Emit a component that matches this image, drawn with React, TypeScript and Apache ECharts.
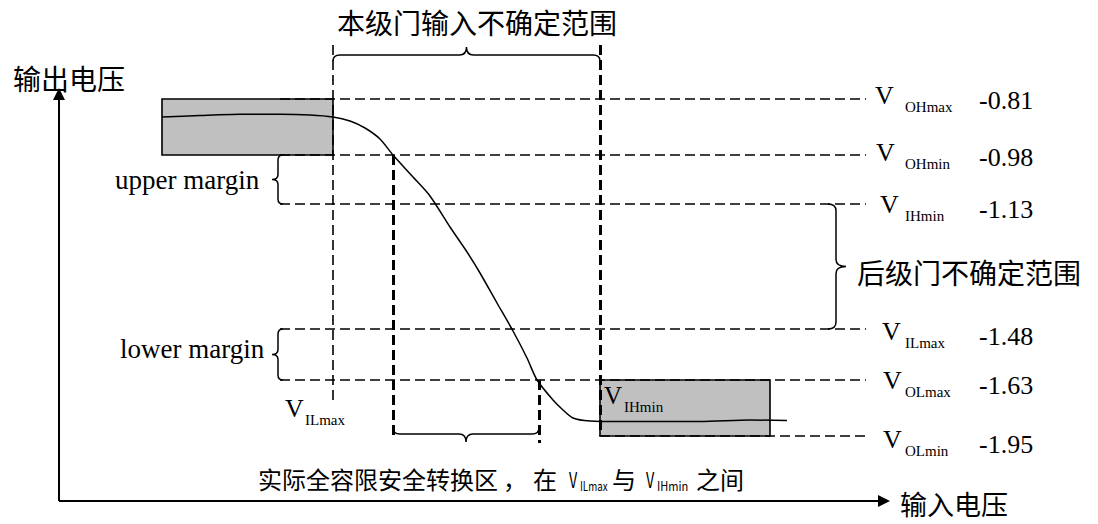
import React, { useEffect, useRef } from 'react';
import * as echarts from 'echarts';

// ---- schematic data (positions on the schematic input / output axes) ----
const levelNames = ['OHmax', 'OHmin', 'IHmin', 'ILmax', 'OLmax', 'OLmin'];
const levelVolts = ['-0.81', '-0.98', '-1.13', '-1.48', '-1.63', '-1.95'];
const levelPos = [99, 155, 204, 329, 380, 436];

const vILmaxX = 333;
const vIHminX = 600;
const safeX = [393, 539];

const highBoxX = [162, 333];
const lowBoxX = [600, 770];

const curveX = [162, 200, 240, 280, 310, 333, 350, 365, 380, 393, 413, 430, 450, 467, 480, 497, 513, 527, 537, 553, 562, 573, 590, 620, 700, 750, 787];
const curveY = [117, 115.5, 114.3, 114.3, 115, 117, 121, 128, 139, 155, 177, 196, 227, 252, 273, 303, 331, 358, 380, 400, 409, 418, 421, 421.5, 421.5, 420, 420.5];

const axisOrigin = [59, 501];
const axisTop = 94;
const axisRight = 884;

const yAxisName = '输出电压';
const xAxisName = '输入电压';
const topTitle = '本级门输入不确定范围';
const rightTitle = '后级门不确定范围';
const marginNames = ['upper margin', 'lower margin'];
const bottomParts = ['实际全容限安全转换区', '，', '在', 'V', 'ILmax', '与', 'V', 'IHmin', '之间'];

const CJK = '"Noto Sans CJK SC", "Noto Sans", sans-serif';
const SERIF = '"Liberation Serif", "Times New Roman", serif';

function bracePath(p0: number[], p1: number[], n: number[], a: number, b: number, r: number) {
  const dx = p1[0] - p0[0];
  const dy = p1[1] - p0[1];
  const L = Math.sqrt(dx * dx + dy * dy);
  const t = [dx / L, dy / L];
  const P = (u: number, v: number) => `${(p0[0] + t[0] * u + n[0] * v).toFixed(2)} ${(p0[1] + t[1] * u + n[1] * v).toFixed(2)}`;
  const m = L / 2;
  return `M ${P(0, 0)} Q ${P(0, a)} ${P(r, a)} L ${P(m - r, a)} Q ${P(m, a)} ${P(m, a + b)} Q ${P(m, a)} ${P(m + r, a)} L ${P(L - r, a)} Q ${P(L, a)} ${P(L, 0)}`;
}

export default function App() {
  const ref = useRef<HTMLDivElement>(null);
  useEffect(() => {
    if (!ref.current) return;
    const chart = echarts.init(ref.current, undefined, { renderer: 'svg' });

    const boxes = [
      { x0: highBoxX[0], x1: highBoxX[1], y0: levelPos[0], y1: levelPos[1] },
      { x0: lowBoxX[0], x1: lowBoxX[1], y0: levelPos[4], y1: levelPos[5] },
    ];

    const braces = [
      { p0: [vILmaxX, 61], p1: [vIHminX, 61], n: [0, -1], a: 6, b: 8, r: 7 },
      { p0: [safeX[0], 428], p1: [safeX[1], 428], n: [0, 1], a: 6, b: 8, r: 7 },
      { p0: [283, levelPos[1]], p1: [283, levelPos[2]], n: [-1, 0], a: 5, b: 6, r: 5 },
      { p0: [283, levelPos[3]], p1: [283, levelPos[4]], n: [-1, 0], a: 5, b: 6, r: 5 },
      { p0: [828, levelPos[2]], p1: [828, levelPos[3]], n: [1, 0], a: 8, b: 10, r: 7 },
    ];

    const dashStart = [280, 280, 280, 280, 280, vIHminX];
    const dashEnd = 866;
    const thin = { color: '#000', width: 1.6, type: [10, 5], opacity: 1 };
    const thick = { color: '#000', width: 3, type: [10, 5], opacity: 1 };

    const hLines = levelPos.map((y, i) => ({ coords: [[dashStart[i], y], [dashEnd, y]], lineStyle: thin }));
    const vLines = [
      { coords: [[vILmaxX, 45], [vILmaxX, 403]], lineStyle: thin },
      { coords: [[safeX[0], levelPos[1]], [safeX[0], 440]], lineStyle: thick },
      { coords: [[safeX[1], levelPos[4]], [safeX[1], 443]], lineStyle: thick },
      { coords: [[vIHminX, 45], [vIHminX, levelPos[5]]], lineStyle: thick },
    ];

    chart.setOption({
      animation: false,
      backgroundColor: '#fff',
      grid: { left: 0, right: 0, top: 0, bottom: 0 },
      xAxis: { type: 'value', min: 0, max: 1098, show: false },
      yAxis: { type: 'value', min: 0, max: 524, inverse: true, show: false },
      series: [
        {
          type: 'custom',
          coordinateSystem: 'cartesian2d',
          clip: false,
          data: boxes.map((_, i) => [i, 0]),
          renderItem: (params: any, api: any) => {
            const b = boxes[params.dataIndex];
            const p0 = api.coord([b.x0, b.y0]);
            const p1 = api.coord([b.x1, b.y1]);
            return {
              type: 'rect',
              shape: { x: Math.min(p0[0], p1[0]), y: Math.min(p0[1], p1[1]), width: Math.abs(p1[0] - p0[0]), height: Math.abs(p1[1] - p0[1]) },
              style: { fill: '#c0c0c0', stroke: '#000', lineWidth: 1.6 },
            };
          },
          z: 1,
        },
        {
          type: 'lines',
          coordinateSystem: 'cartesian2d',
          data: [...hLines, ...vLines],
          symbol: 'none',
          lineStyle: { color: '#000', opacity: 1 },
          z: 2,
        },
        {
          type: 'line',
          data: curveX.map((x, i) => [x, curveY[i]]),
          smooth: 0.25,
          symbol: 'none',
          lineStyle: { color: '#000', width: 1.5, opacity: 1 },
          z: 3,
        },
        {
          type: 'custom',
          coordinateSystem: 'cartesian2d',
          clip: false,
          data: braces.map((_, i) => [i, 0]),
          renderItem: (params: any, api: any) => {
            const b = braces[params.dataIndex];
            const p0 = api.coord(b.p0);
            const p1 = api.coord(b.p1);
            return {
              type: 'path',
              shape: { pathData: bracePath(p0, p1, b.n, b.a, b.b, b.r) },
              style: { fill: 'none', stroke: '#000', lineWidth: 1.5 },
            };
          },
          z: 4,
        },
        {
          type: 'lines',
          coordinateSystem: 'cartesian2d',
          symbol: ['none', 'triangle'],
          symbolSize: [11, 12],
          lineStyle: { color: '#000', width: 2, type: 'solid', opacity: 1 },
          data: [
            { coords: [axisOrigin, [axisOrigin[0], axisTop]] },
            { coords: [axisOrigin, [axisRight, axisOrigin[1]]] },
          ],
          z: 5,
        },
      ],
    });

    const px = (x: number, y: number) => chart.convertToPixel({ gridIndex: 0 }, [x, y]) as number[];
    const txt = (text: string, x: number, y: number, size: number, family: string, sx = 1) => {
      const p = px(x, y);
      return {
        type: 'text',
        x: p[0],
        y: p[1],
        scaleX: sx,
        z: 10,
        style: {
          text,
          fontSize: size,
          fontFamily: family,
          fill: '#000',
          align: 'left',
          verticalAlign: 'middle',
          textAlign: 'left',
          textVerticalAlign: 'middle',
        },
      };
    };

    const labelY = [95, 152, 204, 331, 380, 439];
    const labelX = [875, 876, 880, 882, 883, 883];
    const g: any[] = [
      txt(yAxisName, 13, 78, 28, CJK),
      txt(topTitle, 337, 22, 28, CJK),
      txt(rightTitle, 857, 272, 28, CJK),
      txt(xAxisName, 900, 503, 27, CJK),
      txt(marginNames[0], 115, 180, 27, SERIF),
      txt(marginNames[1], 120, 349, 27, SERIF),
      txt('V', 285, 408, 26, SERIF),
      txt('ILmax', 305, 420, 15, SERIF),
      txt('V', 604, 395, 25, SERIF),
      txt('IHmin', 624, 407, 15, SERIF),
    ];
    levelNames.forEach((name, i) => {
      g.push(txt('V', labelX[i], labelY[i], 26, SERIF));
      g.push(txt(name, 905, labelY[i] + 12, 15, SERIF));
      g.push(txt(levelVolts[i], 979, labelY[i] + 5, 26, SERIF));
    });
    const bx = [258, 503, 533, 569, 580, 612, 646, 657, 696];
    const bs = [24, 24, 24, 22, 13, 24, 22, 13, 24];
    const by = [478, 478, 478, 478, 485, 478, 478, 485, 478];
    const bsx = [1, 1, 1, 0.65, 0.75, 1, 0.65, 0.85, 1];
    bottomParts.forEach((t, i) => g.push(txt(t, bx[i], by[i], bs[i], CJK, bsx[i])));

    chart.setOption({ graphic: { elements: g } });

    return () => chart.dispose();
  }, []);

  return (
    <div
      ref={ref}
      style={{ position: 'fixed', left: 0, top: 0, width: 1098, height: 524, background: '#fff' }}
    />
  );
}
